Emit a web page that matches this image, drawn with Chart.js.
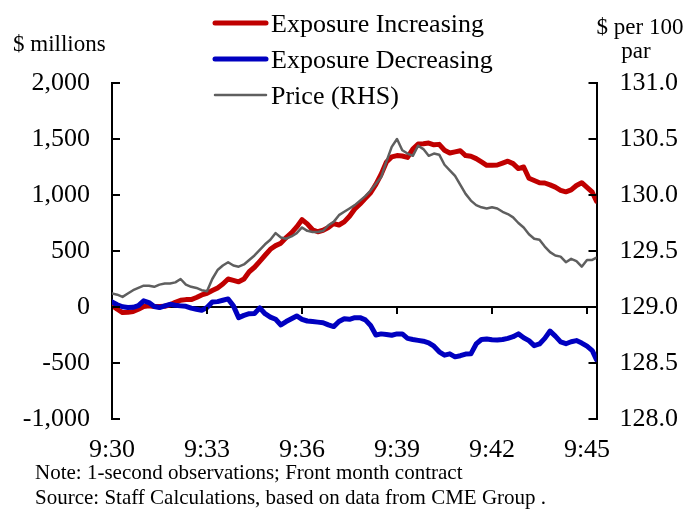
<!DOCTYPE html>
<html>
<head>
<meta charset="utf-8">
<script src="https://cdn.jsdelivr.net/npm/chart.js@4.4.1/dist/chart.umd.min.js"></script>
<style>
  html, body { margin: 0; padding: 0; background: #fff; }
  #wrap { width: 699px; height: 512px; }
</style>
</head>
<body>
<div id="wrap"><canvas id="exposureChart" width="699" height="512"></canvas></div>
<script>
// seconds after 9:30:00
const times = [
  0, 10, 20, 30, 40, 50, 60, 70, 80, 90,
  100, 110, 120, 130, 140, 150, 160, 170, 180, 190,
  200, 210, 220, 230, 240, 250, 260, 270, 280, 290,
  300, 310, 320, 330, 340, 350, 360, 370, 380, 390,
  400, 410, 420, 430, 440, 450, 460, 470, 480, 490,
  500, 510, 520, 530, 540, 550, 560, 570, 580, 590,
  600, 610, 620, 630, 640, 650, 660, 670, 680, 690,
  700, 710, 720, 730, 740, 750, 760, 770, 780, 790,
  800, 810, 820, 830, 840, 850, 860, 870, 880, 890,
  900, 910, 918
];

// x tick positions (seconds after 9:30) and their labels
const xTickValues = [0, 180, 360, 540, 720, 900];
const xTickLabels = ['9:30', '9:33', '9:36', '9:39', '9:42', '9:45'];

// $ millions
const exposureIncreasing = [
  15, -20, -50, -48, -40, -20, 5, 12, 5, 5,
  6, 20, 42, 60, 66, 66, 85, 108, 122, 147,
  170, 205, 250, 238, 225, 250, 315, 355, 408, 462,
  515, 548, 570, 620, 662, 715, 780, 742, 690, 672,
  685, 710, 745, 732, 760, 810, 875, 920, 970, 1020,
  1095, 1185, 1295, 1340, 1352, 1348, 1336, 1410, 1455, 1458,
  1464, 1448, 1452, 1400, 1375, 1385, 1395, 1352, 1346, 1325,
  1295, 1265, 1265, 1268, 1285, 1302, 1280, 1236, 1250, 1150,
  1130, 1110, 1107, 1090, 1070, 1042, 1028, 1045, 1085, 1110,
  1068, 1025, 944
];

const exposureDecreasing = [
  45, 20, 2, -5, -3, 12, 55, 40, 5, -5,
  10, 24, 15, 10, 6, -10, -20, -30, -5, 45,
  48, 60, 72, 10, -95, -75, -60, -58, -8, -60,
  -90, -110, -160, -130, -105, -80, -110, -125, -130, -135,
  -140, -160, -175, -130, -105, -110, -95, -95, -115, -165,
  -250, -240, -245, -252, -240, -240, -280, -290, -298, -305,
  -320, -350, -400, -430, -418, -445, -435, -420, -418, -330,
  -290, -285, -292, -295, -290, -280, -265, -240, -275, -300,
  -345, -330, -280, -215, -260, -312, -328, -310, -300, -322,
  -350, -390, -470
];

// $ per 100 par
const price = [
  129.12, 129.11, 129.09, 129.12, 129.15, 129.17, 129.19, 129.19, 129.18, 129.20,
  129.21, 129.21, 129.22, 129.25, 129.20, 129.18, 129.17, 129.15, 129.14, 129.25,
  129.33, 129.37, 129.40, 129.37, 129.36, 129.38, 129.42, 129.46, 129.51, 129.56,
  129.60, 129.66, 129.62, 129.61, 129.63, 129.66, 129.71, 129.68, 129.67, 129.67,
  129.68, 129.73, 129.76, 129.82, 129.85, 129.88, 129.91, 129.95, 129.99, 130.04,
  130.10, 130.16, 130.30, 130.43, 130.50, 130.40, 130.37, 130.35, 130.44, 130.41,
  130.35, 130.37, 130.36, 130.27, 130.22, 130.17, 130.09, 130.01, 129.95, 129.91,
  129.89, 129.88, 129.89, 129.88, 129.85, 129.83, 129.80, 129.75, 129.71, 129.65,
  129.61, 129.60, 129.54, 129.49, 129.46, 129.45, 129.40, 129.43, 129.41, 129.36,
  129.42, 129.42, 129.44
];

const seriesLabels = ['Exposure Increasing', 'Exposure Decreasing', 'Price (RHS)'];
const seriesColors = ['#c00000', '#0000c0', '#5f5f5f'];

const serif = "'Liberation Serif', 'Times New Roman', Times, serif";
Chart.defaults.font.family = serif;
Chart.defaults.font.size = 26;
Chart.defaults.color = '#000';

function toPoints(values) {
  return times.map((t, i) => ({ x: t, y: values[i] }));
}

// inward tick marks, zero-line ticks, legend and notes
const decorations = {
  id: 'decorations',
  afterDraw(chart) {
    const { ctx, scales } = chart;
    const x = scales.x, y = scales.y, y1 = scales.y1;
    ctx.save();
    ctx.strokeStyle = '#000';
    ctx.lineWidth = 2;
    ctx.beginPath();
    y.ticks.forEach((t, i) => {
      const py = Math.round(y.getPixelForTick(i));
      ctx.moveTo(y.right, py);
      ctx.lineTo(y.right + 8, py);
    });
    y1.ticks.forEach((t, i) => {
      const py = Math.round(y1.getPixelForTick(i));
      ctx.moveTo(y1.left, py);
      ctx.lineTo(y1.left - 8, py);
    });
    const zeroY = Math.round(y.getPixelForValue(0));
    x.ticks.forEach((t, i) => {
      const px = Math.round(x.getPixelForTick(i));
      ctx.moveTo(px, zeroY);
      ctx.lineTo(px, zeroY + 7);
    });
    ctx.stroke();

    // legend
    const rows = [23, 59, 95];
    ctx.font = '26px ' + serif;
    ctx.fillStyle = '#000';
    ctx.textAlign = 'left';
    ctx.textBaseline = 'alphabetic';
    chart.data.datasets.forEach((ds, i) => {
      ctx.beginPath();
      ctx.strokeStyle = ds.borderColor;
      ctx.lineWidth = i < 2 ? 5 : 2.5;
      ctx.lineCap = 'round';
      ctx.moveTo(215, rows[i]);
      ctx.lineTo(266, rows[i]);
      ctx.stroke();
      ctx.fillText(ds.label, 271, rows[i] + 9);
    });

    // axis titles
    ctx.font = '23px ' + serif;
    ctx.textAlign = 'left';
    ctx.fillText('$ millions', 13, 51);
    ctx.textAlign = 'center';
    ctx.fillText('$ per 100', 640, 34);
    ctx.fillText('par', 636, 58);

    // notes
    ctx.font = '21px ' + serif;
    ctx.textAlign = 'left';
    ctx.fillText('Note: 1-second observations; Front month contract', 35, 479);
    ctx.fillText('Source: Staff Calculations, based on data from CME Group .', 35, 504);
    ctx.restore();
  }
};

new Chart(document.getElementById('exposureChart'), {
  type: 'line',
  data: {
    datasets: [
      {
        label: seriesLabels[0],
        data: toPoints(exposureIncreasing),
        borderColor: seriesColors[0],
        borderWidth: 5,
        yAxisID: 'y',
        order: 3
      },
      {
        label: seriesLabels[1],
        data: toPoints(exposureDecreasing),
        borderColor: seriesColors[1],
        borderWidth: 5,
        yAxisID: 'y',
        order: 2
      },
      {
        label: seriesLabels[2],
        data: toPoints(price),
        borderColor: seriesColors[2],
        borderWidth: 2.5,
        yAxisID: 'y1',
        order: 1
      }
    ]
  },
  options: {
    responsive: false,
    animation: false,
    layout: { padding: { top: 83, left: 0, right: 0, bottom: 0 } },
    elements: {
      point: { radius: 0 },
      line: { tension: 0, borderJoinStyle: 'round', borderCapStyle: 'round' }
    },
    plugins: {
      legend: { display: false },
      tooltip: { enabled: false }
    },
    scales: {
      x: {
        type: 'linear',
        position: 'bottom',
        min: 0,
        max: 918,
        afterFit: (scale) => { scale.height = 93; },
        afterBuildTicks: (scale) => {
          scale.ticks = xTickValues.map((v) => ({ value: v }));
        },
        grid: { display: false, drawTicks: false },
        border: { display: false },
        ticks: {
          autoSkip: false,
          maxRotation: 0,
          padding: 16,
          callback: (value) => xTickLabels[xTickValues.indexOf(value)]
        }
      },
      y: {
        position: 'left',
        min: -1000,
        max: 2000,
        afterFit: (scale) => { scale.width = 112; },
        grid: {
          drawTicks: false,
          lineWidth: 2,
          color: (ctx) => (ctx.tick && ctx.tick.value === 0 ? '#000' : 'rgba(0,0,0,0)')
        },
        border: { display: true, color: '#000', width: 2 },
        ticks: {
          stepSize: 500,
          padding: 22,
          callback: (value) => value.toLocaleString('en-US')
        }
      },
      y1: {
        position: 'right',
        min: 128,
        max: 131,
        afterFit: (scale) => { scale.width = 102.5; },
        grid: { drawOnChartArea: false, drawTicks: false },
        border: { display: true, color: '#000', width: 2 },
        ticks: {
          stepSize: 0.5,
          padding: 23,
          callback: (value) => value.toFixed(1)
        }
      }
    }
  },
  plugins: [decorations]
});
</script>
</body>
</html>
